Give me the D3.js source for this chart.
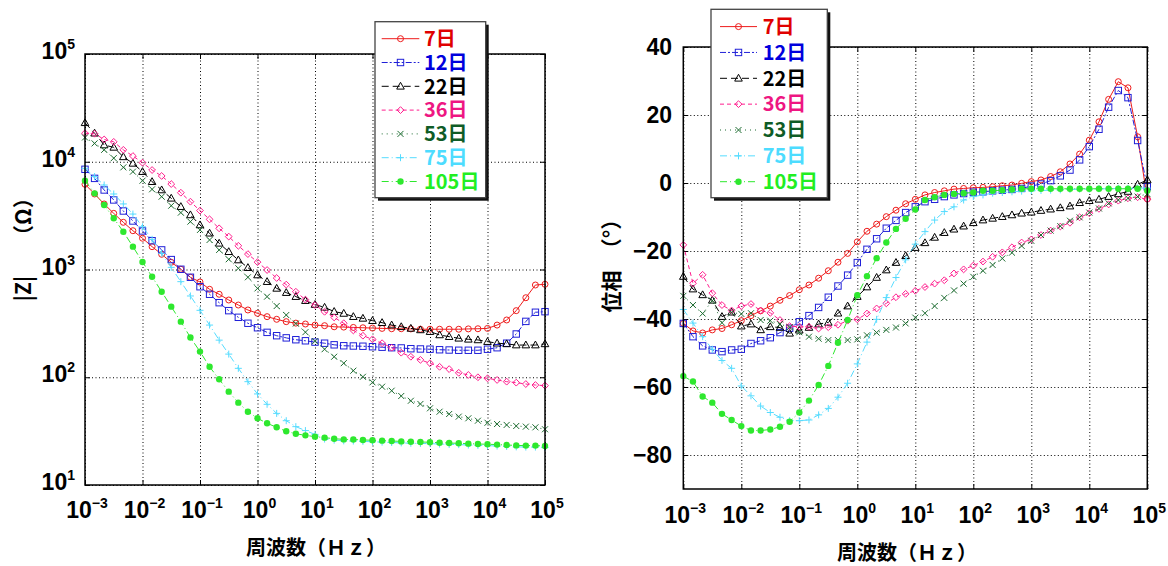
<!DOCTYPE html>
<html><head><meta charset="utf-8">
<script src="https://cdn.jsdelivr.net/npm/d3@7"></script>
<style>
body{margin:0;background:#fff;}
svg{display:block;}
.num{font-family:"Liberation Sans",Arial,sans-serif;font-weight:700;}
.jp{font-family:"Noto Sans CJK JP",sans-serif;font-weight:700;}
</style></head><body>
<svg id="chart" width="1168" height="566"></svg>
<script>
// Measurement frequencies (Hz), 6 points per decade
const freq = [0.001,0.001468,0.002154,0.003162,0.004642,0.006813,
  0.01,0.01468,0.02154,0.03162,0.04642,0.06813,
  0.1,0.1468,0.2154,0.3162,0.4642,0.6813,
  1,1.468,2.154,3.162,4.642,6.813,
  10,14.68,21.54,31.62,46.42,68.13,
  100,146.8,215.4,316.2,464.2,681.3,
  1000,1468,2154,3162,4642,6813,
  10000,14680,21540,31620,46420,68130,100000];

const days = ["7日","12日","22日","36日","53日","75日","105日"];

// |Z| (Ω)
const z7 = [6180,5020,4055,3319,2742,2291,1950,1629,1384,1167,1005,847,766,655,589,521,468,421,392,365,345,328,318,312,305,301,294,292,290,288,286,284,282,282,281,279,279,279,279,279,281,282,284,305,340,415,547,718,729];
const z12 = [8510,7010,5470,4420,3490,2820,2280,1850,1520,1236,1005,847,692,589,492,415,360,317,288,261,243,232,223,218,212,207,200,196,195,194,192,190,188,187,184,183,182,180,179,178,178,178,182,188,207,252,330,401,406];
const z22 = [23000,18400,14300,13600,11100,9660,8090,6530,5470,4580,3830,3210,2590,2170,1750,1462,1225,1040,889,771,668,610,560,514,473,445,407,391,365,352,335,321,305,294,284,275,265,247,238,230,225,222,214,207,204,199,199,199,204];
const z36 = [18400,18200,16100,15300,12900,11300,9800,8380,7380,6210,5160,4260,3520,2920,2410,2020,1660,1390,1170,989,834,724,622,525,468,405,359,317,272,243,225,207,188,169,155,145,135,125,119,110,105,100,97.7,94.4,91.0,89.1,86.5,84.7,83.6];
const z53 = [16800,14800,12900,10800,8870,8090,6670,5550,4740,3910,3370,2780,2330,1880,1520,1245,1026,847,668,560,458,378,315,262,216,182,155,135,115,101,89.7,81.7,75.0,67.0,60.5,56.5,51.5,47.9,45.6,43.1,41.6,39.5,37.8,36.8,36.1,35.3,34.8,34.3,32.9];
const z75 = [8690,7280,6080,5020,4060,3270,2490,1905,1413,1047,771,568,418,305,221,164,121,91.0,70.0,56.1,46.2,39.5,34.8,32.0,29.5,26.7,26.1,25.7,25.6,25.4,25.2,25.0,24.8,24.6,24.4,24.3,24.2,24.0,23.8,23.7,23.5,23.3,23.2,23.0,22.8,22.6,22.5,22.5,22.3];
const z105 = [6670,5090,3970,2990,2240,1630,1175,857,622,452,328,234,173,125,95.7,73.5,58.1,47.9,41.6,37.4,34.3,31.5,29.9,28.9,28.1,27.5,26.9,26.5,26.4,26.2,26.0,25.8,25.6,25.4,25.2,25.1,24.9,24.7,24.5,24.4,24.2,24.0,23.9,23.7,23.5,23.3,23.2,23.2,23.0];

// Phase (°)
const p7 = [-41.3,-43.5,-44.1,-43.2,-42.8,-41.7,-40.5,-39.0,-37.6,-36.2,-34.5,-33.1,-31.4,-30.0,-28.0,-25.8,-23.3,-20.7,-17.3,-14.2,-12.1,-9.9,-8.0,-6.1,-4.8,-3.5,-2.8,-2.3,-1.8,-1.6,-1.4,-1.3,-1.1,-0.8,-0.6,-0.1,0.4,0.9,1.9,3.3,5.6,8.5,12.6,18.0,24.6,29.8,28.0,13.6,-4.7];
const p12 = [-41.3,-45.2,-47.9,-49.1,-49.6,-49.1,-48.9,-47.2,-46.4,-45.5,-44.0,-42.7,-40.8,-39.0,-36.6,-33.6,-30.3,-27.1,-23.4,-19.5,-16.4,-13.3,-11.0,-8.7,-7.0,-5.5,-4.8,-4.0,-3.5,-3.1,-2.7,-2.6,-2.3,-2.1,-1.9,-1.6,-0.9,-0.3,0.7,2.1,3.8,6.8,10.7,15.8,22.3,27.2,25.1,12.5,-1.1];
const p22 = [-27.5,-31.2,-32.9,-34.5,-39.3,-38.0,-42.1,-41.5,-43.2,-42.3,-42.5,-44.2,-43.3,-42.5,-41.5,-41.0,-38.3,-36.2,-33.4,-30.6,-27.8,-25.6,-23.4,-21.4,-19.0,-17.6,-16.0,-14.6,-13.6,-12.7,-11.7,-10.9,-10.4,-9.9,-9.4,-8.9,-8.6,-8.1,-7.7,-7.3,-6.8,-5.8,-5.2,-4.8,-4.0,-3.2,-2.5,-0.4,0.9];
const p36 = [-18.2,-29.5,-27.0,-32.4,-35.9,-37.5,-36.2,-35.6,-37.5,-38.2,-40.3,-42.1,-42.3,-42.3,-42.8,-42.4,-41.7,-40.5,-40.1,-38.4,-36.9,-35.4,-33.6,-32.6,-31.7,-30.6,-29.6,-28.6,-26.6,-25.4,-24.3,-23.1,-21.7,-20.4,-18.9,-17.5,-16.6,-15.3,-14.0,-12.8,-11.7,-10.1,-8.9,-7.6,-6.3,-5.2,-4.5,-4.2,-4.8];
const p53 = [-33.2,-35.9,-38.4,-34.6,-41.1,-38.1,-38.5,-38.3,-40.3,-40.5,-41.5,-42.4,-43.9,-45.2,-45.8,-46.2,-46.2,-46.2,-46.0,-44.8,-44.0,-43.2,-42.5,-41.3,-39.6,-38.3,-36.2,-33.8,-31.6,-29.6,-27.6,-25.8,-24.1,-22.2,-20.5,-18.5,-17.0,-15.3,-14.0,-12.7,-11.1,-10.1,-8.7,-7.5,-6.0,-5.0,-4.5,-4.0,-3.2];
const p75 = [-37.2,-41.2,-45.2,-48.9,-52.2,-54.5,-59.7,-62.6,-65.6,-67.5,-68.9,-69.9,-69.9,-69.7,-68.2,-66.3,-63.0,-58.9,-53.2,-46.8,-40.1,-33.7,-27.8,-22.6,-18.0,-14.3,-10.9,-8.4,-7.0,-5.0,-4.0,-3.5,-3.0,-2.8,-2.6,-2.4,-2.3,-2.2,-2.1,-2.0,-1.9,-1.8,-1.8,-1.7,-1.7,-1.6,-1.6,-1.5,-1.5];
const p105 = [-56.8,-58.4,-62.8,-64.6,-67.9,-69.7,-71.5,-72.8,-72.8,-72.5,-71.7,-70.2,-67.5,-64.0,-59.4,-53.8,-47.0,-40.3,-33.0,-27.4,-22.1,-17.5,-13.5,-10.5,-7.8,-5.0,-4.2,-3.5,-3.2,-3.0,-2.8,-2.3,-2.3,-2.1,-1.9,-1.7,-1.7,-1.7,-1.7,-1.7,-1.7,-1.7,-1.7,-1.7,-1.7,-1.7,-1.7,-1.7,-2.3];

// Tick values
const freqTicks = [1e-3,1e-2,1e-1,1e0,1e1,1e2,1e3,1e4,1e5];
const zTicks = [1e1,1e2,1e3,1e4,1e5];
const phaseTicks = [40,20,0,-20,-40,-60,-80];

const zSeries = [z7,z12,z22,z36,z53,z75,z105];
const pSeries = [p7,p12,p22,p36,p53,p75,p105];

// Visual style per series
const styles = [
  {line:"#ee1c1c", text:"#e00000", marker:"circle",   dash:null},
  {line:"#2020d8", text:"#0000dd", marker:"square",   dash:"6,2,2,2"},
  {line:"#000000", text:"#000000", marker:"triangle", dash:"7,4"},
  {line:"#ff1e8e", text:"#ee1682", marker:"diamond",  dash:"4,3"},
  {line:"#1c6b30", text:"#0f5c26", marker:"cross",    dash:"1,4"},
  {line:"#56dcff", text:"#4ddcff", marker:"plus",     dash:"7,3,1,3"},
  {line:"#2ee82e", text:"#22ee22", marker:"dot",      dash:"7,3,1,3"}
];

const svg = d3.select("#chart");

function drawMarker(g, type, x, y, color){
  const s = g.append("g").attr("transform", `translate(${x},${y})`);
  const sw = 1;
  switch(type){
    case "circle":
      s.append("circle").attr("r",3).attr("fill","none").attr("stroke",color).attr("stroke-width",sw); break;
    case "square":
      s.append("rect").attr("x",-3.2).attr("y",-3.2).attr("width",6.4).attr("height",6.4)
        .attr("fill","none").attr("stroke",color).attr("stroke-width",sw); break;
    case "triangle":
      s.append("path").attr("d","M0,-4L3.8,2.8L-3.8,2.8Z").attr("fill","none").attr("stroke",color).attr("stroke-width",sw); break;
    case "diamond":
      s.append("path").attr("d","M0,-3.4L3.4,0L0,3.4L-3.4,0Z").attr("fill","none").attr("stroke",color).attr("stroke-width",sw); break;
    case "cross":
      s.append("path").attr("d","M-3,-3L3,3M-3,3L3,-3").attr("stroke",color).attr("stroke-width",sw); break;
    case "plus":
      s.append("path").attr("d","M-3.5,0L3.5,0M0,-3.5L0,3.5").attr("stroke",color).attr("stroke-width",sw); break;
    case "dot":
      s.append("circle").attr("r",3.2).attr("fill",color); break;
  }
}

function powLabel(g, x, y, exp, anchor){
  const t = g.append("text").attr("class","num").attr("x",x).attr("y",y)
    .attr("text-anchor",anchor).attr("fill","#000");
  t.append("tspan").attr("font-size",23).text("10");
  t.append("tspan").attr("font-size",14).attr("dy",-10).text(exp < 0 ? "\u2212" + (-exp) : String(exp));
}

function frame(g, x, y){
  const [x0,x1] = x.range(), [y0,y1] = [y.range()[1], y.range()[0]];
  g.append("rect").attr("x",x0).attr("y",y0).attr("width",x1-x0).attr("height",y1-y0)
    .attr("fill","none").attr("stroke","#000").attr("stroke-width",1.5);
}

function grid(g, x, y, xt, yt){
  const [x0,x1] = x.range(); const yb = y.range()[0], yt0 = y.range()[1];
  const gx = g.append("g").attr("transform",`translate(0,${yb})`)
    .call(d3.axisBottom(x).tickValues(xt).tickSize(-(yb-yt0)).tickFormat(""));
  const gy = g.append("g").attr("transform",`translate(${x0},0)`)
    .call(d3.axisLeft(y).tickValues(yt).tickSize(-(x1-x0)).tickFormat(""));
  [gx,gy].forEach(a=>{
    a.select(".domain").remove();
    a.selectAll("line").attr("stroke","#000").attr("stroke-width",1).attr("stroke-dasharray","1,2.5");
  });
  // short inner ticks on all four sides
  const tk = [
    [d3.axisBottom(x).tickValues(xt).tickSize(-5), `translate(0,${yb})`],
    [d3.axisTop(x).tickValues(xt).tickSize(-5), `translate(0,${yt0})`],
    [d3.axisLeft(y).tickValues(yt).tickSize(-5), `translate(${x0},0)`],
    [d3.axisRight(y).tickValues(yt).tickSize(-5), `translate(${x1},0)`]
  ];
  tk.forEach(([ax,tr])=>{
    const a = g.append("g").attr("transform",tr).call(ax.tickFormat(""));
    a.select(".domain").remove();
    a.selectAll("line").attr("stroke","#000").attr("stroke-width",1);
  });
}

function series(g, x, y, values){
  values.forEach((vals, k)=>{
    const st = styles[k];
    const pts = freq.map((f,i)=>[x(f), y(vals[i])]);
    g.append("path").attr("d", d3.line()(pts)).attr("fill","none")
      .attr("stroke", st.line).attr("stroke-width",1)
      .attr("stroke-dasharray", st.dash);
    pts.forEach(p=>drawMarker(g, st.marker, p[0], p[1], st.line));
  });
}

function legend(g, box, rowY0, rowDy, lx1, lx2, tx){
  g.append("rect").attr("x",box.x+3).attr("y",box.y+3).attr("width",box.w).attr("height",box.h).attr("fill","#111");
  g.append("rect").attr("x",box.x).attr("y",box.y).attr("width",box.w).attr("height",box.h)
    .attr("fill","#fff").attr("stroke","#444").attr("stroke-width",1.3);
  days.forEach((d,k)=>{
    const st = styles[k], yy = rowY0 + k*rowDy;
    g.append("line").attr("x1",lx1).attr("x2",lx2).attr("y1",yy).attr("y2",yy)
      .attr("stroke",st.line).attr("stroke-width",1).attr("stroke-dasharray",st.dash);
    drawMarker(g, st.marker, (lx1+lx2)/2, yy, st.line);
    g.append("text").attr("class","jp").attr("x",tx).attr("y",yy).attr("dy","0.36em")
      .attr("font-size",20).attr("fill",st.text).text(d);
  });
}

// ---------- |Z| panel ----------
const xL = d3.scaleLog().domain([1e-3,1e5]).range([85,545]);
const yL = d3.scaleLog().domain([10,1e5]).range([485,54]);
const gL = svg.append("g");
grid(gL, xL, yL, freqTicks, zTicks);
series(gL, xL, yL, zSeries);
frame(gL, xL, yL);
zTicks.forEach(v=>powLabel(gL, 75, yL(v)+5, Math.round(Math.log10(v)), "end"));
freqTicks.forEach(v=>powLabel(gL, xL(v)+2, 518, Math.round(Math.log10(v)), "middle"));
gL.append("text").attr("class","jp").attr("x",316).attr("y",555).attr("text-anchor","middle")
  .attr("font-size",20).text("周波数（Ｈｚ）");
gL.append("text").attr("class","jp").attr("transform","translate(22,288.5) rotate(-90)")
  .attr("text-anchor","middle").attr("dominant-baseline","central").attr("font-size",21).text("|Z|");
gL.append("text").attr("class","jp").attr("transform","translate(22,216.5) rotate(-90)")
  .attr("text-anchor","middle").attr("dominant-baseline","central").attr("font-size",21).text("（Ω）");
legend(gL, {x:375,y:21.7,w:110.7,h:176}, 38.7, 23.8, 381.7, 419.3, 424);

// ---------- Phase panel ----------
const xR = d3.scaleLog().domain([1e-3,1e5]).range([683.3,1147.3]);
const yR = d3.scaleLinear().domain([-90,40]).range([489,47]);
const gR = svg.append("g");
grid(gR, xR, yR, freqTicks, phaseTicks);
series(gR, xR, yR, pSeries);
frame(gR, xR, yR);
phaseTicks.forEach(v=>{
  gR.append("text").attr("class","num").attr("x",672).attr("y",yR(v)+8).attr("text-anchor","end")
    .attr("font-size",23).text(v < 0 ? "\u2212" + (-v) : String(v));
});
freqTicks.forEach(v=>powLabel(gR, xR(v)+2, 523, Math.round(Math.log10(v)), "middle"));
gR.append("text").attr("class","jp").attr("x",907).attr("y",560).attr("text-anchor","middle")
  .attr("font-size",20).text("周波数（Ｈｚ）");
gR.append("text").attr("class","jp").attr("transform","translate(610,291.5) rotate(-90)")
  .attr("text-anchor","middle").attr("dominant-baseline","central").attr("font-size",21).text("位相");
gR.append("text").attr("class","jp").attr("transform","translate(610,234) rotate(-90)")
  .attr("text-anchor","middle").attr("dominant-baseline","central").attr("font-size",21).text("（°）");
legend(gR, {x:711,y:9.3,w:116.3,h:188.4}, 26.6, 25.85, 720, 757, 762.7);
</script>
</body></html>
